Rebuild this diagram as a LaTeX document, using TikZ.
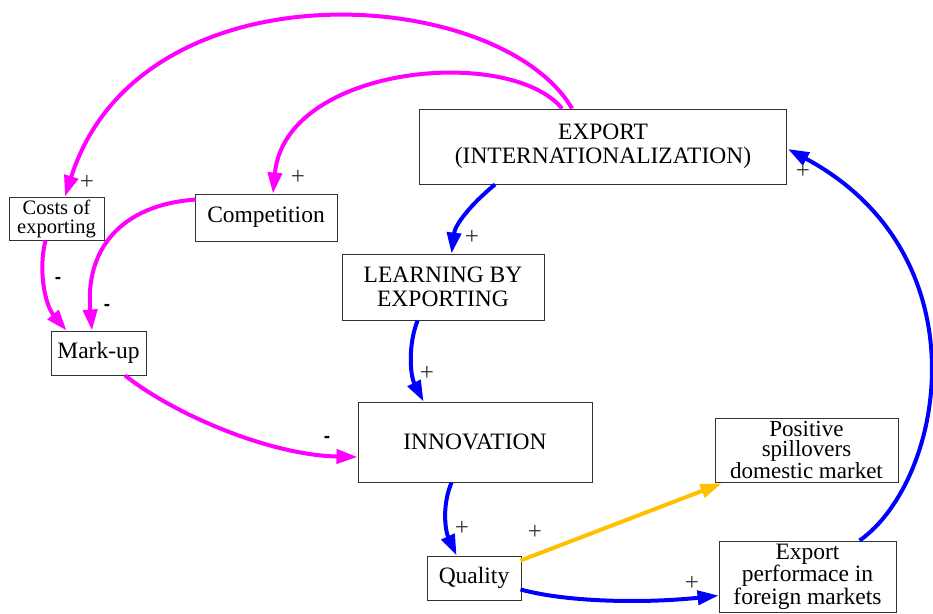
\documentclass[tikz,border=0pt]{standalone}
\usepackage{fontspec}
\setmainfont{Liberation Serif}
\newfontfamily\labelsans{Liberation Sans}
\usetikzlibrary{arrows.meta,calc}
\definecolor{mag}{RGB}{255,0,255}
\definecolor{blu}{RGB}{0,0,255}
\definecolor{gold}{RGB}{255,192,0}
\begin{document}
\begin{tikzpicture}[x=1pt,y=-1pt,
  box/.style={draw=black!80, line width=0.9pt, inner sep=0pt, align=center},
  f24/.style={font=\fontsize{23.5}{24}\selectfont},
  link/.style={line width=4pt, -{Triangle[length=21pt,width=14pt]}},
  pinkl/.style={link, draw=mag},
  bluel/.style={link, draw=blu},
  goldl/.style={link, draw=gold},
  plus/.style={inner sep=0pt, font=\fontsize{25}{25}\selectfont, text=black!80},
  minus/.style={inner sep=0pt, font=\labelsans\bfseries\fontsize{19}{19}\selectfont}]
\useasboundingbox (0,0) rectangle (933,613);
% nodes
\node[box, minimum width=95pt, minimum height=43pt, font=\fontsize{20.5}{19}\selectfont] (costs) at (56.5,218.5) {Costs of\\exporting};
\node[box, f24, minimum width=142pt, minimum height=47pt] (comp) at (266,217.5) {Competition};
\node[box, f24, minimum width=367pt, minimum height=75pt] (export) at (603,146.5) {EXPORT\\(INTERNATIONALIZATION)};
\node[box, f24, minimum width=202pt, minimum height=66pt] (learn) at (443,287) {LEARNING BY\\EXPORTING};
\node[box, f24, minimum width=95pt, minimum height=44pt] (markup) at (98.5,353) {Mark-up};
\node[box, f24, minimum width=234pt, minimum height=80pt] (innov) at (475,442) {INNOVATION};
\node[box, minimum width=183pt, minimum height=64pt, font=\fontsize{23}{19.5}\selectfont] (spill) at (806.5,450) {Positive\\spillovers\\domestic market};
\node[box, f24, minimum width=94pt, minimum height=44pt] (quality) at (474,578) {Quality};
\node[box, minimum width=177pt, minimum height=71pt, font=\fontsize{23.5}{22.5}\selectfont] (perf) at (807.5,576.5) {Export\\performace in\\foreign markets};
% magenta links
\draw[pinkl] ($(export.north west)+(153,0)$) .. controls (500,-15) and (140,-40) .. ($(costs.north)+(8.5,0)$);
\draw[pinkl] ($(export.north west)+(143,0)$) .. controls (510,45) and (285,65) .. ($(comp.north)+(7,0)$);
\draw[pinkl] ($(comp.north west)+(1,6)$) .. controls (120,205) and (85,250) .. ($(markup.north)+(-6.5,0)$);
\draw[pinkl] ($(costs.south)+(-11,0)$) .. controls (38,270) and (45,305) .. ($(markup.north west)+(16,0)$);
\draw[pinkl] ($(markup.south)+(26.5,0)$) .. controls (175,415) and (270,455) .. ($(innov.west)+(0,15)$);
% blue links
\draw[bluel] ($(export.south west)+(76,0)$) .. controls (470,205) and (455,225) .. ($(learn.north west)+(110,0)$);
\draw[bluel] ($(learn.south west)+(76,0)$) .. controls (408,345) and (410,375) .. ($(innov.north west)+(66,0)$);
\draw[bluel] ($(innov.south west)+(94,0)$) .. controls (442,505) and (445,530) .. ($(quality.north west)+(30,0)$);
\draw[bluel] ($(quality.south east)+(-1,-11)$) .. controls (570,603) and (650,603) .. ($(perf.west)+(0,19)$);
\draw[bluel] ($(perf.north west)+(141,0)$) .. controls (945,480) and (985,255) .. ($(export.east)+(1,2.5)$);
% gold link
\draw[goldl] ($(quality.north east)+(-1,5)$) -- ($(spill.south west)+(7,1)$);
% polarity labels
\node[plus] (p1) at (87,182) {+};
\node[plus] (p2) at (298,177) {+};
\node[plus] (p3) at (472,237) {+};
\node[plus] (p4) at (427,373) {+};
\node[plus] (p5) at (462,528) {+};
\node[plus] (p6) at (535,532) {+};
\node[plus] (p7) at (692,583) {+};
\node[plus] (p8) at (803,171) {+};
\node[minus] (m1) at (58,280) {-};
\node[minus] (m2) at (107,307) {-};
\node[minus] (m3) at (327,439) {-};
\end{tikzpicture}
\end{document}
